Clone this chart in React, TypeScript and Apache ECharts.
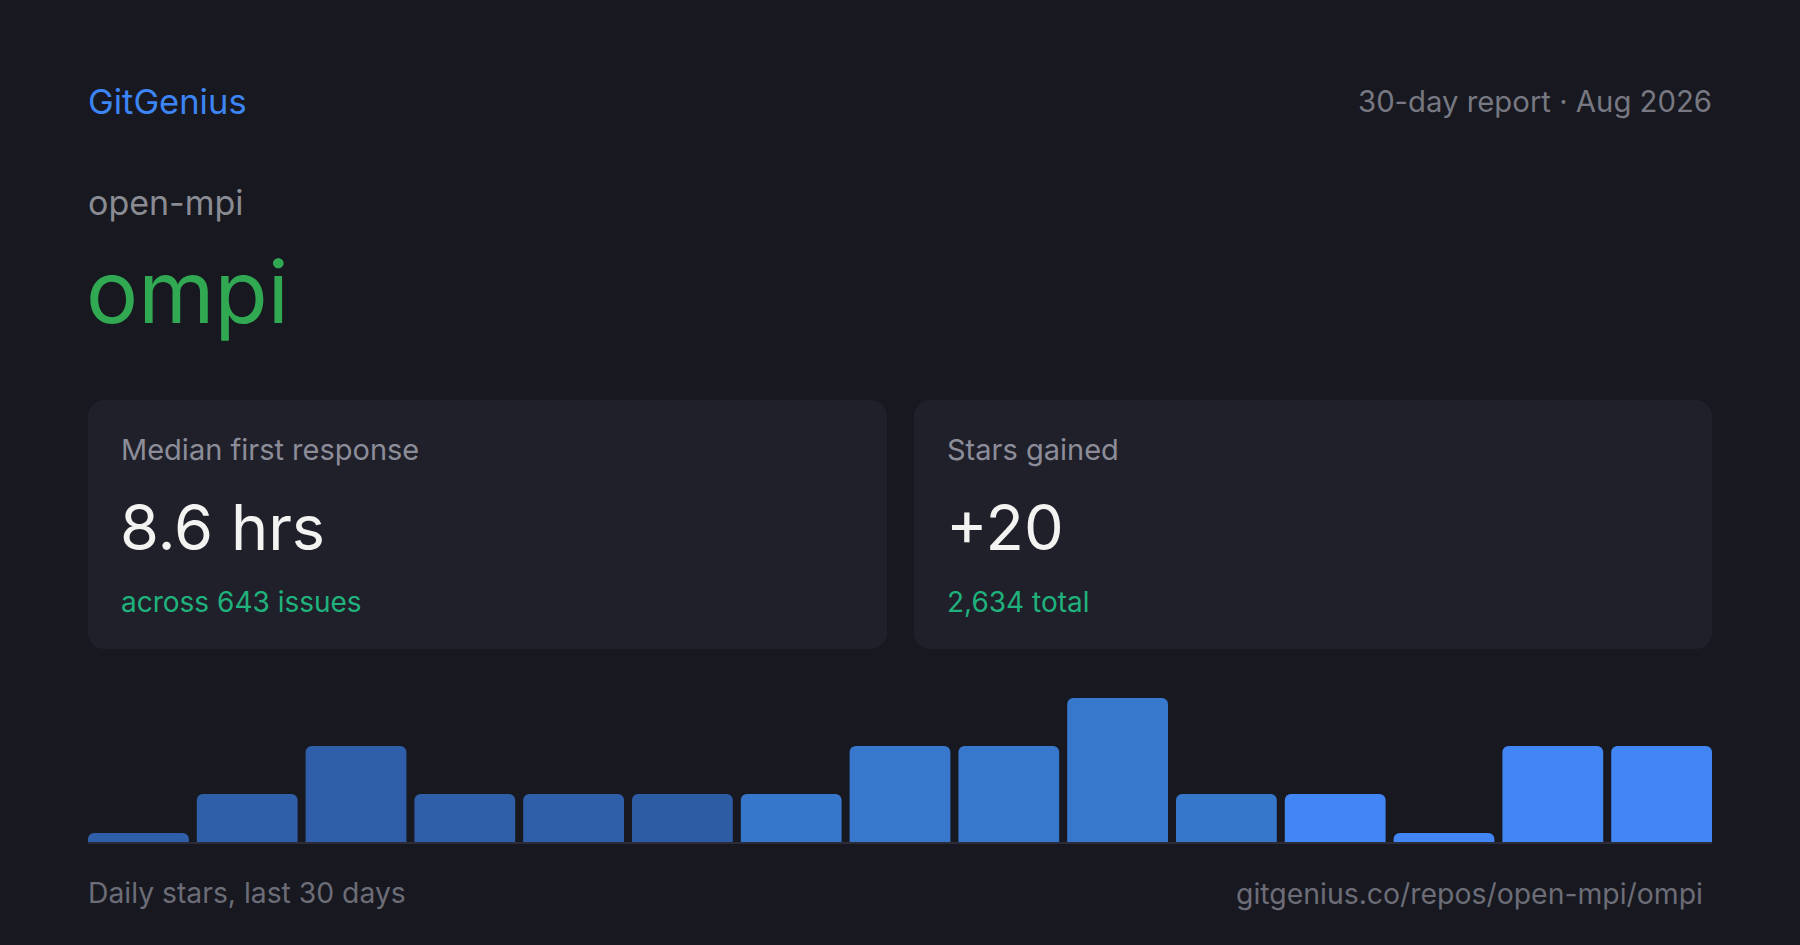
import React, { useEffect, useRef } from "react";
import * as echarts from "echarts";

const categories = ["1", "2", "3", "4", "5", "6", "7", "8", "9", "10", "11", "12", "13", "14", "15"];
const starValues = [0, 1, 2, 1, 1, 1, 1, 2, 2, 3, 1, 1, 0, 2, 2];
const barColors = [
  "#2f5fa9", "#2f5fa9", "#2f5fa9", "#2f5fa9", "#2f5fa9", "#2d5ca5",
  "#3677cb", "#3778cd", "#3778cd", "#3778cd", "#3677c9",
  "#4285f4", "#4285f4", "#4285f4", "#4285f4",
];

const brand = "GitGenius";
const reportLabel = "30-day report · Aug 2026";
const owner = "open-mpi";
const repo = "ompi";
const cardLabels = ["Median first response", "Stars gained"];
const cardValues = ["8.6 hrs", "+20"];
const cardNotes = ["across 643 issues", "2,634 total"];
const footerLeft = "Daily stars, last 30 days";
const footerRight = "gitgenius.co/repos/open-mpi/ompi";

const FONT = "Inter, 'Noto Sans', sans-serif";

export default function App() {
  const ref = useRef<HTMLDivElement>(null);
  useEffect(() => {
    if (!ref.current) return;
    const chart = echarts.init(ref.current, undefined, { renderer: "svg" });
    const txt = (text: string, x: number, y: number, size: number, fill: string, align = "left") => ({
      type: "text",
      x,
      y,
      style: { text, fontSize: size, fontFamily: FONT, fill, align, verticalAlign: "middle" },
    });
    const cards = [
      { x: 88, w: 799 },
      { x: 914, w: 798 },
    ];
    const graphic: any[] = [];
    cards.forEach((c, i) => {
      graphic.push({
        type: "rect",
        shape: { x: c.x, y: 400, width: c.w, height: 249, r: 16 },
        style: { fill: "#20202b" },
        z: 0,
      });
      graphic.push(txt(cardLabels[i], c.x + 33, 449, 29, "#8c8d98"));
      graphic.push(txt(cardValues[i], c.x + 32, 527, 63, "#f3f3f1"));
      graphic.push(txt(cardNotes[i], c.x + 33, 602, 28, "#20b27c"));
    });
    graphic.push(txt(brand, 88, 101, 34.5, "#3d84f5"));
    graphic.push(txt(reportLabel, 1712, 101, 29.3, "#777882", "right"));
    graphic.push(txt(owner, 88, 202, 34, "#8a8b93"));
    graphic.push(txt(repo, 86, 291, 87, "#31a952"));
    graphic.push(txt(footerLeft, 88, 893, 28.3, "#6c6d77"));
    graphic.push(txt(footerRight, 1703, 893, 28.4, "#6c6d77", "right"));

    chart.setOption({
      animation: false,
      backgroundColor: "#171820",
      graphic,
      grid: { left: 84, right: 84, top: 698, bottom: 103, containLabel: false },
      xAxis: {
        type: "category",
        data: categories,
        axisLine: { show: false },
        axisTick: { show: false },
        axisLabel: { show: false },
        splitLine: { show: false },
      },
      yAxis: {
        type: "value",
        min: 0,
        max: 3,
        interval: 1,
        show: false,
        splitLine: { show: false },
      },
      series: [
        {
          type: "bar",
          data: starValues.map((v, i) => ({ value: v, itemStyle: { color: barColors[i] } })),
          barWidth: 100.8,
          barMinHeight: 9,
          itemStyle: { borderRadius: [6, 6, 0, 0] },
          z: 2,
          markLine: {
            silent: true,
            symbol: "none",
            label: { show: false },
            lineStyle: { color: "#2b2c37", width: 2, type: "solid" },
            data: [
              [
                { coord: [0, 0], x: 88, y: 843 },
                { coord: [14, 0], x: 1712, y: 843 },
              ],
            ],
          },
        },
      ],
    });
    return () => chart.dispose();
  }, []);
  return (
    <div
      ref={ref}
      style={{ position: "fixed", left: 0, top: 0, width: 1800, height: 945, background: "#171820" }}
    />
  );
}
